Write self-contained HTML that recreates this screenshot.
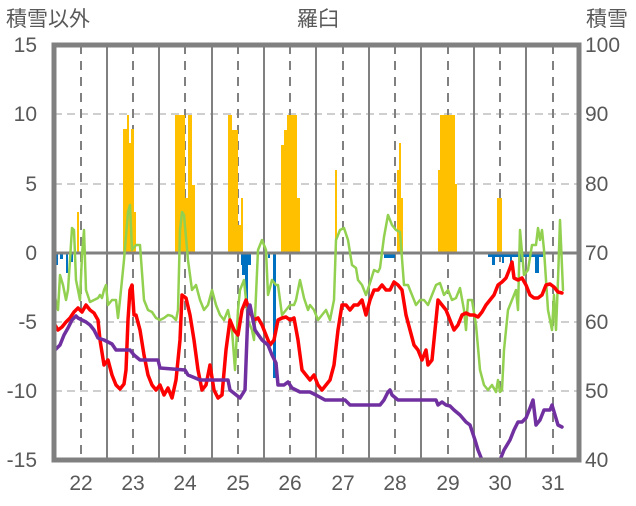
<!DOCTYPE html>
<html><head><meta charset="utf-8"><style>
body{margin:0;background:#fff}
svg text{font-family:"Liberation Sans","Noto Sans CJK JP",sans-serif;fill:#595959}
</style></head><body>
<svg width="636" height="501" xmlns="http://www.w3.org/2000/svg">
<rect width="636" height="501" fill="#fff"/>
<g font-size="21">
<text x="6" y="26">積雪以外</text>
<text x="318" y="26" text-anchor="middle">羅臼</text>
<text x="586" y="26">積雪</text>
</g>
<g font-size="21" text-anchor="end">
<text x="37" y="52">15</text><text x="37" y="121">10</text><text x="37" y="191">5</text>
<text x="37" y="260">0</text><text x="37" y="329">-5</text><text x="37" y="398">-10</text><text x="37" y="467">-15</text>
</g>
<g font-size="21" text-anchor="start">
<text x="585" y="52">100</text><text x="585" y="121">90</text><text x="585" y="191">80</text>
<text x="585" y="260">70</text><text x="585" y="329">60</text><text x="585" y="398">50</text><text x="585" y="467">40</text>
</g>
<g font-size="21" text-anchor="middle">
<text x="81" y="490">22</text><text x="133" y="490">23</text><text x="185" y="490">24</text><text x="238" y="490">25</text><text x="290" y="490">26</text>
<text x="343" y="490">27</text><text x="395" y="490">28</text><text x="448" y="490">29</text><text x="500" y="490">30</text><text x="553" y="490">31</text>
</g>
<g stroke="#bfbfbf" stroke-width="1.5" stroke-dasharray="8,5">
<line x1="54" y1="114" x2="579" y2="114"/><line x1="54" y1="184" x2="579" y2="184"/>
<line x1="54" y1="322" x2="579" y2="322"/><line x1="54" y1="391" x2="579" y2="391"/>
</g>
<g stroke="#808080" stroke-width="2">
<line x1="107" y1="45" x2="107" y2="460"/><line x1="159" y1="45" x2="159" y2="460"/><line x1="212" y1="45" x2="212" y2="460"/>
<line x1="264" y1="45" x2="264" y2="460"/><line x1="316" y1="45" x2="316" y2="460"/><line x1="369" y1="45" x2="369" y2="460"/>
<line x1="421" y1="45" x2="421" y2="460"/><line x1="474" y1="45" x2="474" y2="460"/><line x1="526" y1="45" x2="526" y2="460"/>
</g>
<g stroke="#808080" stroke-width="2" stroke-dasharray="9,7">
<line x1="81" y1="45" x2="81" y2="460"/><line x1="133" y1="45" x2="133" y2="460"/><line x1="185" y1="45" x2="185" y2="460"/>
<line x1="238" y1="45" x2="238" y2="460"/><line x1="290" y1="45" x2="290" y2="460"/><line x1="343" y1="45" x2="343" y2="460"/>
<line x1="395" y1="45" x2="395" y2="460"/><line x1="448" y1="45" x2="448" y2="460"/><line x1="500" y1="45" x2="500" y2="460"/>
<line x1="553" y1="45" x2="553" y2="460"/>
</g>
<g fill="#ffc000">
<rect x="77" y="212" width="2" height="41"/>
<rect x="123" y="129" width="4" height="124"/><rect x="127" y="115" width="2" height="138"/><rect x="129" y="143" width="2" height="110"/>
<rect x="131" y="129" width="3" height="124"/><rect x="134" y="212" width="2" height="41"/>
<rect x="175" y="115" width="10" height="138"/><rect x="185" y="198" width="3" height="55"/><rect x="188" y="115" width="4" height="138"/><rect x="192" y="185" width="3" height="68"/>
<rect x="228" y="115" width="4" height="138"/><rect x="232" y="130" width="6" height="123"/><rect x="238" y="225" width="3" height="28"/><rect x="241" y="198" width="2" height="55"/>
<rect x="281" y="145" width="3" height="108"/><rect x="284" y="130" width="3" height="123"/><rect x="287" y="115" width="10" height="138"/><rect x="297" y="198" width="3" height="55"/>
<rect x="335" y="170" width="2" height="83"/>
<rect x="397" y="170" width="2" height="83"/><rect x="399" y="143" width="2" height="110"/><rect x="401" y="198" width="2" height="55"/>
<rect x="438" y="170" width="2" height="83"/><rect x="440" y="115" width="15" height="138"/><rect x="455" y="184" width="2" height="69"/>
<rect x="497" y="198" width="5" height="55"/>
</g>
<g fill="#0070c0">
<rect x="54" y="253" width="4" height="12"/><rect x="60" y="253" width="3" height="6"/><rect x="66" y="253" width="2" height="20"/><rect x="71" y="253" width="2" height="9"/>
<rect x="241" y="253" width="10" height="12"/><rect x="242" y="253" width="6" height="22"/><rect x="245" y="253" width="3" height="55"/>
<rect x="268" y="253" width="2" height="5"/><rect x="273" y="253" width="3" height="125"/>
<rect x="384" y="253" width="11" height="5"/>
<rect x="488" y="253" width="55" height="4"/><rect x="492" y="253" width="3" height="12"/><rect x="502" y="253" width="2" height="10"/>
<rect x="510" y="253" width="2" height="10"/><rect x="520" y="253" width="3" height="9"/><rect x="535" y="253" width="4" height="20"/>
</g>
<line x1="54" y1="253" x2="579" y2="253" stroke="#808080" stroke-width="3"/>
<g fill="none" stroke-linejoin="round" stroke-linecap="round">
<polyline stroke="#92d050" stroke-width="2.5" points="55,297 58,310 60,275 63,285 66,300 68,290 70,260 72,228 74,230 76,280 80,300 82,255 84,230 86,290 90,302 94,300 98,298 100,295 102,298 104,290 106,285 108,305 112,300 116,300 118,318 120,300 124,260 128,212 130,205 132,250 136,245 140,245 144,300 148,310 152,312 156,318 160,320 164,318 168,315 172,316 176,320 178,310 180,230 182,212 184,215 188,260 192,290 196,285 200,300 204,310 208,305 212,290 216,305 220,315 224,320 228,310 232,330 235,370 238,310 240,290 244,280 248,320 252,330 254,340 258,250 262,240 266,250 268,295 272,280 276,285 278,285 282,315 286,310 290,305 294,305 296,300 300,280 304,298 308,310 310,305 314,310 318,320 322,315 326,310 330,320 334,300 336,240 340,230 344,228 348,240 352,265 356,268 358,280 362,285 366,295 370,283 374,270 378,272 380,268 384,237 388,215 392,225 396,230 400,232 404,285 408,285 412,295 416,305 420,300 424,300 428,305 432,295 436,285 440,283 444,295 448,290 452,300 456,298 460,288 464,310 466,330 468,300 472,300 476,325 480,370 484,385 488,390 492,385 496,392 498,380 500,392 502,390 504,350 508,310 512,300 516,290 518,310 520,230 524,275 528,270 532,245 536,245 538,228 540,240 542,230 544,250 548,310 552,330 554,295 556,330 558,280 560,220 563,290"/>
<polyline stroke="#ff0000" stroke-width="3.5" points="55,325 58,330 62,327 66,322 70,318 74,312 78,308 82,312 86,305 90,310 94,313 98,320 100,340 104,365 108,360 112,375 116,385 120,389 124,384 126,370 128,320 130,290 132,285 134,315 136,315 140,330 144,355 148,375 152,385 156,390 160,385 164,395 168,388 172,398 176,380 180,340 182,295 186,298 190,315 194,340 198,370 202,390 206,385 210,365 214,390 218,398 222,395 226,350 230,320 234,330 238,335 242,310 246,300 250,312 254,320 258,318 262,325 266,335 270,345 274,340 278,320 282,318 286,317 290,320 294,318 298,340 302,370 306,375 310,380 314,375 318,385 322,390 326,385 330,380 334,365 338,330 342,305 346,305 350,310 354,305 358,305 362,300 366,315 370,300 374,290 378,290 382,285 386,290 390,290 394,282 398,285 402,290 406,315 410,330 414,345 418,350 422,360 426,350 428,365 432,360 434,340 438,300 442,305 446,310 450,320 454,330 458,325 462,315 466,313 470,315 474,315 478,317 482,312 486,305 490,300 494,295 498,285 502,282 506,278 510,268 512,262 514,278 518,280 522,278 526,285 530,295 534,298 538,298 542,295 546,285 550,284 554,287 558,292 562,293"/>
<polyline stroke="#7030a0" stroke-width="3.5" points="55,350 60,345 64,335 68,328 72,320 76,316 78,318 82,320 86,322 90,325 94,330 98,338 104,340 108,342 112,344 116,350 130,350 134,355 140,360 158,360 160,368 185,370 188,375 200,380 228,380 230,390 240,398 245,390 248,310 250,305 255,330 262,340 268,345 272,355 276,363 278,385 284,385 288,382 292,388 300,392 310,392 316,395 325,400 345,400 350,405 380,405 384,400 388,392 390,390 392,395 398,400 436,400 438,405 442,402 446,405 450,406 454,410 460,415 466,422 470,425 475,440 478,450 482,460 500,460 504,450 510,440 514,430 518,422 522,422 526,418 530,408 533,400 536,425 540,420 544,410 550,410 552,405 555,415 558,425 562,427"/>
</g>
<rect x="54" y="45" width="525" height="415" fill="none" stroke="#808080" stroke-width="5"/>
</svg>
</body></html>
